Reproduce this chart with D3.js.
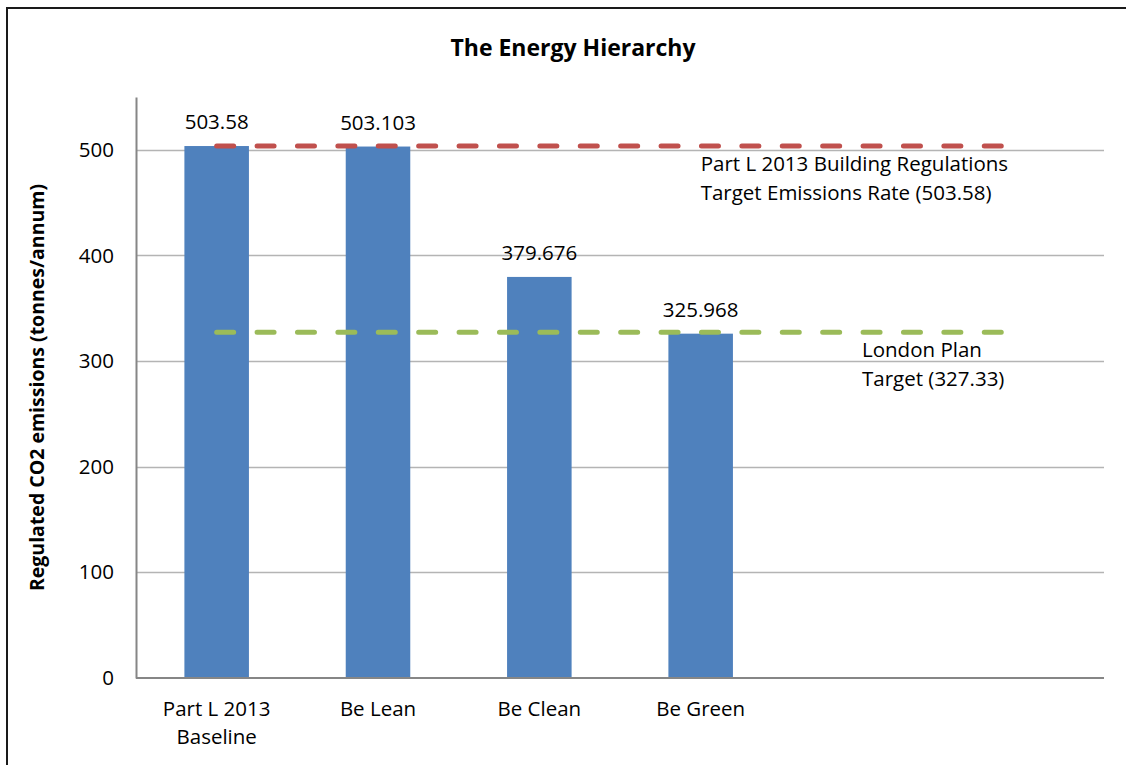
<!DOCTYPE html>
<html>
<head>
<meta charset="utf-8">
<script src="https://cdn.jsdelivr.net/npm/d3@7"></script>
<style>
  html, body { margin: 0; background: #fff; overflow: hidden; }
  svg { display: block; }
  text { font-family: "Open Sans", Lato, sans-serif; fill: #000; }
</style>
</head>
<body>
<div id="chart"></div>
<script>
// chart values
const categories = ['Part L 2013\nBaseline', 'Be Lean', 'Be Clean', 'Be Green'];
const emissions = [503.58, 503.103, 379.676, 325.968];
const valueLabels = ['503.58', '503.103', '379.676', '325.968'];
const emptySlots = 2;
const yTicks = [0, 100, 200, 300, 400, 500];
const targetNames = ['Part L 2013 Building Regulations\nTarget Emissions Rate (503.58)', 'London Plan\nTarget (327.33)'];
const targetValues = [503.58, 327.33];
const targetLabelSlot = [3, 4];

const config = {
    width: 1126, height: 765,
    margin: {top: 97, right: 22, bottom: 87, left: 136},
    barColor: '#4F81BD',
    targetColors: ['#C0504D', '#9BBB59'],
    fontSize: 20.5
};

const svg = d3.select('#chart').append('svg')
    .attr('width', config.width)
    .attr('height', config.height);

// outer frame
svg.append('rect')
    .attr('x', 7).attr('y', 8)
    .attr('width', config.width + 10).attr('height', config.height + 10)
    .attr('fill', 'none')
    .attr('stroke', '#1a1a1a')
    .attr('stroke-width', 2);

const innerW = config.width - config.margin.left - config.margin.right;
const innerH = config.height - config.margin.top - config.margin.bottom;

const chart = svg.append('g')
    .attr('transform', `translate(${config.margin.left},${config.margin.top})`);

const slots = d3.range(categories.length + emptySlots);

const x = d3.scaleBand()
    .domain(slots)
    .range([0, innerW])
    .paddingInner(0.6)
    .paddingOuter(0.3);

const y = d3.scaleLinear()
    .domain([0, 550])
    .range([innerH, 0]);

const cx = i => x(i) + x.bandwidth() / 2;

// gridlines
chart.append('g')
    .selectAll('line')
    .data(yTicks.filter(d => d > 0))
    .join('line')
        .attr('x1', 0).attr('x2', innerW)
        .attr('y1', d => Math.round(y(d)) + 0.5)
        .attr('y2', d => Math.round(y(d)) + 0.5)
        .attr('stroke', '#b4b4b4')
        .attr('stroke-width', 1.5);

// bars
chart.selectAll('.bar')
    .data(emissions)
    .join('rect')
        .attr('class', 'bar')
        .attr('x', (d, i) => x(i))
        .attr('y', d => y(d))
        .attr('width', x.bandwidth())
        .attr('height', d => innerH - y(d))
        .attr('fill', config.barColor);

// y axis
const yAxis = chart.append('g')
    .call(d3.axisLeft(y).tickValues(yTicks).tickSize(0).tickPadding(22));
yAxis.select('.domain').attr('stroke', '#868686').attr('stroke-width', 2);
yAxis.selectAll('text')
    .attr('font-size', config.fontSize)
    .attr('font-family', '"Open Sans", sans-serif')
    .attr('fill', '#000');

// x axis line
chart.append('line')
    .attr('x1', 0).attr('x2', innerW)
    .attr('y1', innerH).attr('y2', innerH)
    .attr('stroke', '#868686')
    .attr('stroke-width', 2);

// category labels
const catLabels = chart.selectAll('.cat')
    .data(categories)
    .join('text')
        .attr('class', 'cat')
        .attr('text-anchor', 'middle')
        .attr('font-size', config.fontSize)
        .attr('transform', (d, i) => `translate(${cx(i)},${innerH + 38})`);
catLabels.selectAll('tspan')
    .data(d => d.split('\n'))
    .join('tspan')
        .attr('x', 0)
        .attr('y', (d, i) => i * 28)
        .text(d => d);

// value labels
chart.selectAll('.value')
    .data(emissions)
    .join('text')
        .attr('class', 'value')
        .attr('text-anchor', 'middle')
        .attr('font-size', config.fontSize)
        .attr('x', (d, i) => cx(i))
        .attr('y', d => y(d) - 17)
        .text((d, i) => valueLabels[i]);

// target lines
const firstSlot = slots[0];
const lastSlot = slots[slots.length - 1];
chart.selectAll('.target')
    .data(targetValues)
    .join('line')
        .attr('class', 'target')
        .attr('x1', cx(firstSlot))
        .attr('x2', cx(lastSlot))
        .attr('y1', d => y(d))
        .attr('y2', d => y(d))
        .attr('stroke', (d, i) => config.targetColors[i])
        .attr('stroke-width', 5)
        .attr('stroke-linecap', 'round')
        .attr('stroke-dasharray', '17,23.4');

// target annotations
const notes = chart.selectAll('.note')
    .data(targetNames)
    .join('text')
        .attr('class', 'note')
        .attr('font-size', config.fontSize)
        .attr('transform', (d, i) => `translate(${cx(targetLabelSlot[i])},${y(targetValues[i]) + 25})`);
notes.selectAll('tspan')
    .data(d => d.split('\n'))
    .join('tspan')
        .attr('x', 0)
        .attr('y', (d, i) => i * 29)
        .text(d => d);

// titles
svg.append('text')
    .attr('x', 573)
    .attr('y', 56)
    .attr('text-anchor', 'middle')
    .attr('font-size', 23)
    .attr('font-weight', 'bold')
    .text('The Energy Hierarchy');

svg.append('text')
    .attr('transform', `translate(44,${config.margin.top + innerH / 2}) rotate(-90)`)
    .attr('text-anchor', 'middle')
    .attr('font-size', 19.5)
    .attr('font-weight', 'bold')
    .text('Regulated CO2 emissions (tonnes/annum)');
</script>
</body>
</html>
